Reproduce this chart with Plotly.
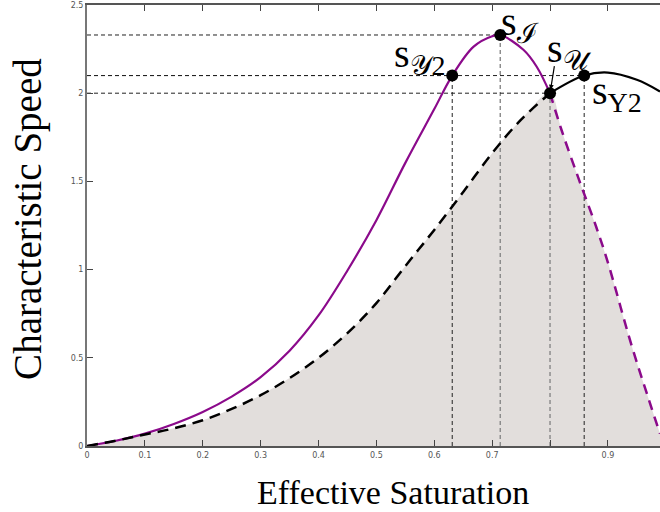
import plotly.graph_objects as go

# ---- data ----
purple_x = [0, 0.05, 0.1, 0.15, 0.2, 0.25, 0.3, 0.35, 0.4, 0.45, 0.5, 0.55, 0.6, 0.631, 0.668, 0.7, 0.714, 0.754, 0.777, 0.8,
            0.82, 0.85, 0.88, 0.9, 0.94, 0.97, 0.99]
purple_y = [0, 0.03, 0.07, 0.125, 0.193, 0.28, 0.39, 0.54, 0.74, 0.995, 1.28, 1.605, 1.91, 2.10, 2.264, 2.323, 2.33, 2.246, 2.15, 2.0,
            1.79, 1.51, 1.24, 1.04, 0.58, 0.27, 0.07]
black_x = [0, 0.05, 0.1, 0.15, 0.2, 0.25, 0.3, 0.35, 0.4, 0.45, 0.5, 0.55, 0.6, 0.65, 0.7, 0.75, 0.8,
           0.859, 0.9, 0.95, 0.99]
black_y = [0, 0.03, 0.065, 0.10, 0.146, 0.21, 0.288, 0.385, 0.50, 0.64, 0.81, 1.02, 1.225, 1.44, 1.66, 1.85, 2.0,
           2.10, 2.117, 2.076, 2.01]
split_x = 0.8

pt_names = ["sY2", "sI", "sU", "sUps2"]
pt_x = [0.631, 0.714, 0.8, 0.859]
pt_y = [2.1, 2.33, 2.0, 2.1]

x_ticks = [0, 0.1, 0.2, 0.3, 0.4, 0.5, 0.6, 0.7, 0.8, 0.9]
x_ticktext = ["0", "0.1", "0.2", "0.3", "0.4", "0.5", "0.6", "0.7", "", "0.9"]
y_ticks = [0, 0.5, 1, 1.5, 2, 2.5]
y_ticktext = ["0", "0.5", "1", "1.5", "2", "2.5"]

PURPLE = "#8b0a8b"
FILL = "#e2dedc"

fig = go.Figure()

# shaded region under the lower of the two curves
fx = [x for x in black_x if x <= split_x] + [x for x in purple_x if x > split_x]
fy = [y for x, y in zip(black_x, black_y) if x <= split_x] + [y for x, y in zip(purple_x, purple_y) if x > split_x]
fig.add_trace(go.Scatter(x=fx, y=fy, mode="lines", line=dict(width=0, shape="spline"),
                         fill="tozeroy", fillcolor=FILL, hoverinfo="skip"))

# guide lines
for (xv, yv), col in zip(zip(pt_x, pt_y), ["#222", "#888", "#888", "#222"]):
    fig.add_trace(go.Scatter(x=[xv, xv], y=[0, yv], mode="lines",
                             line=dict(color=col, width=1.4 if col == "#888" else 1, dash="4px,3px")))
    fig.add_trace(go.Scatter(x=[0, xv], y=[yv, yv], mode="lines",
                             line=dict(color="#222", width=1, dash="4px,3px")))

# purple curve
px1 = [x for x in purple_x if x <= split_x]
py1 = [y for x, y in zip(purple_x, purple_y) if x <= split_x]
px2 = [x for x in purple_x if x >= split_x]
py2 = [y for x, y in zip(purple_x, purple_y) if x >= split_x]
fig.add_trace(go.Scatter(x=px1, y=py1, mode="lines", line=dict(color=PURPLE, width=2.2, shape="spline")))
fig.add_trace(go.Scatter(x=px2, y=py2, mode="lines", line=dict(color=PURPLE, width=2.5, shape="spline", dash="10px,7px")))

# black curve
bx1 = [x for x in black_x if x <= split_x]
by1 = [y for x, y in zip(black_x, black_y) if x <= split_x]
bx2 = [x for x in black_x if x >= split_x]
by2 = [y for x, y in zip(black_x, black_y) if x >= split_x]
fig.add_trace(go.Scatter(x=bx1, y=by1, mode="lines", line=dict(color="black", width=2.5, shape="spline", dash="11px,7px")))
fig.add_trace(go.Scatter(x=bx2, y=by2, mode="lines", line=dict(color="black", width=2.2, shape="spline")))

# points
fig.add_trace(go.Scatter(x=pt_x, y=pt_y, mode="markers", marker=dict(color="black", size=12)))

LF = dict(family="Liberation Serif, DejaVu Serif, serif", size=40, color="black")
anns = [
    dict(x=0.624, y=2.21, text="s<sub>𝒴2</sub>", xanchor="right", yanchor="middle"),
    dict(x=0.711, y=2.39, text="s<sub>ℐ</sub>", xanchor="left", yanchor="middle"),
    dict(x=0.792, y=2.24, text="s<sub>𝒰</sub>", xanchor="left", yanchor="middle"),
    dict(x=0.869, y=2.0, text="s<sub>Υ2</sub>", xanchor="left", yanchor="middle"),
]
for a in anns:
    fig.add_annotation(**a, xref="x", yref="y", showarrow=False, font=LF)
fig.add_annotation(x=0.801, y=2.02, xref="x", yref="y", text="", showarrow=True,
                   ax=4, ay=-25, arrowhead=2, arrowsize=0.8, arrowwidth=1.2, arrowcolor="black")

# axis titles
fig.add_annotation(text="Characteristic Speed", xref="paper", yref="paper", x=-59 / 573, y=0.515,
                   textangle=-90, showarrow=False, xanchor="center", yanchor="middle",
                   font=dict(family="Liberation Serif, serif", size=39, color="black"))
fig.add_annotation(text="Effective Saturation", xref="paper", yref="paper", x=0.534, y=-46 / 441,
                   showarrow=False, xanchor="center", yanchor="middle",
                   font=dict(family="Liberation Serif, serif", size=34, color="black"))

fig.update_layout(
    width=660, height=512,
    margin=dict(l=87, r=0, t=5, b=66),
    paper_bgcolor="white", plot_bgcolor="white",
    showlegend=False,
    xaxis=dict(range=[0, 0.99], tickvals=x_ticks, ticktext=x_ticktext, ticks="inside", ticklen=6,
               tickcolor="#444", showline=True, linecolor="#555", linewidth=2, mirror="ticks",
               showgrid=False, zeroline=False, tickfont=dict(family="DejaVu Sans", size=8, color="#555")),
    yaxis=dict(range=[0, 2.5], tickvals=y_ticks, ticktext=y_ticktext, ticks="inside", ticklen=6,
               tickcolor="#444", showline=True, linecolor="#777", linewidth=2,
               showgrid=False, zeroline=False, tickfont=dict(family="DejaVu Sans", size=8, color="#555")),
)

fig.write_html("out.html", config={"displayModeBar": False},
               post_script="document.body.style.margin='0';document.body.style.overflow='hidden';")
